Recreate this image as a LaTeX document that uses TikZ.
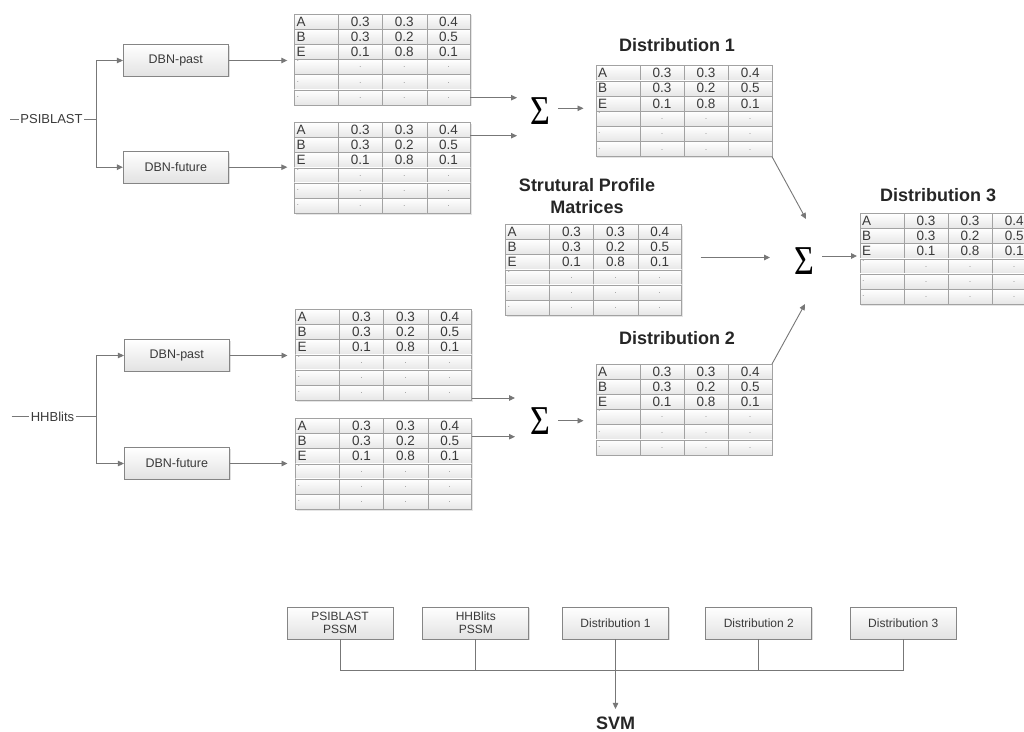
\documentclass[tikz,border=0pt]{standalone}
\usepackage{fontspec}
\setmainfont{Liberation Sans}
\newfontfamily\sigfont{Liberation Serif}
\usetikzlibrary{arrows.meta,shadows}
\definecolor{lineC}{HTML}{777777}
\definecolor{boxC}{HTML}{858585}
\definecolor{boxB}{HTML}{E2E2E2}
\definecolor{gridC}{HTML}{A2A2A2}
\definecolor{cellB}{HTML}{E6E6E6}
\definecolor{txtC}{HTML}{3A3A3A}
\definecolor{dotC}{HTML}{9A9A9A}
\newcommand{\promat}[3]{%
  \node[matframe,anchor=north west] (#1) at (#2,#3) {};
  \begin{scope}[shift={(#2,#3)}]
    \foreach \r in {0,...,5}{
      \foreach \xa/\xb in {0/44,44/88,88/132.5,132.5/176}{
        \path[cell] (\xa,\r*15.17) rectangle (\xb,\r*15.17+15.17);
      }
    }
    \foreach \r/\lab/\va/\vb/\vc in {0/A/0.3/0.3/0.4,1/B/0.3/0.2/0.5,2/E/0.1/0.8/0.1}{
      \node[ctxt,anchor=west] at (1,\r*15.17+7.4) {\lab};
      \node[ctxt] at (66,\r*15.17+7.4) {\va};
      \node[ctxt] at (110,\r*15.17+7.4) {\vb};
      \node[ctxt] at (154.2,\r*15.17+7.4) {\vc};
    }
    \node[dtxt,anchor=west] at (2,3*15.17+2) {.};
    \foreach \r in {4,5}{\node[dtxt,anchor=west] at (2,\r*15.17+7) {.};}
    \foreach \r in {3,4,5}{
      \foreach \cx in {66,110,154.2}{\node[dtxt] at (\cx,\r*15.17+8) {.};}
    }
  \end{scope}
}
\begin{document}
\begin{tikzpicture}[x=1pt,y=-1pt,
  line/.style={draw=lineC,line width=0.9pt},
  arr/.style={line,-{Triangle[length=6pt,width=5.5pt]}},
  box/.style={draw=boxC,line width=0.8pt,top color=white,bottom color=boxB,
    minimum width=105pt,minimum height=31.5pt,inner sep=0pt,text=txtC,
    font=\fontsize{12.5}{14}\selectfont,
    drop shadow={shadow xshift=1.2pt,shadow yshift=-1.2pt,opacity=0.25}},
  bbox/.style={box,minimum width=106pt,minimum height=32pt,align=center,
    font=\fontsize{12}{13}\selectfont},
  cell/.style={draw=gridC,line width=0.6pt,top color=white,bottom color=cellB},
  ctxt/.style={inner sep=1pt,text=txtC,font=\fontsize{13.5}{14}\selectfont},
  dtxt/.style={inner sep=0pt,text=dotC,font=\fontsize{9}{10}\selectfont},
  matframe/.style={draw=gridC,fill=white,line width=0.8pt,minimum width=176pt,minimum height=91pt,inner sep=0pt,outer sep=0pt,
    drop shadow={shadow xshift=1.2pt,shadow yshift=-1.2pt,opacity=0.2}},
  ttl/.style={font=\fontsize{18}{21.7}\selectfont\bfseries,text=black!85,align=center,inner sep=0pt},
  sig/.style={inner sep=0pt,font=\sigfont\fontsize{41}{41}\selectfont},
  lbl/.style={inner sep=1.5pt,text=txtC,font=\fontsize{13}{14}\selectfont}
]
\clip (0,0) rectangle (1024,731);
\fill[white] (0,0) rectangle (1024,731);

% ---- left top
\node[lbl] (psi) at (51.5,119) {PSIBLAST};
\coordinate (p0) at (10,119);
\coordinate (pj) at (96.5,119);
\node[box] (dbp1) at (175.8,60.5) {DBN-past};
\node[box] (dbf1) at (175.8,167.2) {DBN-future};
\draw[line] (p0) -- (psi.west);
\draw[line] (psi.east) -- (pj);
\draw[arr] (pj) |- (dbp1.west);
\draw[arr] (pj) |- (dbf1.west);

% ---- left bottom
\node[lbl] (hhb) at (52.5,416.7) {HHBlits};
\coordinate (h0) at (11.5,416.7);
\coordinate (hj) at (96.5,416.7);
\node[box] (dbp2) at (176.8,355.5) {DBN-past};
\node[box] (dbf2) at (176.8,463.5) {DBN-future};
\draw[line] (h0) -- (hhb.west);
\draw[line] (hhb.east) -- (hj);
\draw[arr] (hj) |- (dbp2.west);
\draw[arr] (hj) |- (dbf2.west);

% ---- matrices
\promat{m1}{294.3}{14}
\promat{m2}{294.3}{122.3}
\promat{m3}{295.5}{309.3}
\promat{m4}{295.5}{418.3}
\promat{d1}{596}{65.7}
\promat{sp}{505.5}{224.3}
\promat{d2}{596}{364}
\promat{d3}{860}{213.3}

\draw[arr,shorten >=7pt] (dbp1.east) -- (dbp1.east -| m1.west);
\draw[arr,shorten >=7pt] (dbf1.east) -- (dbf1.east -| m2.west);
\draw[arr,shorten >=8pt] (dbp2.east) -- (dbp2.east -| m3.west);
\draw[arr,shorten >=8pt] (dbf2.east) -- (dbf2.east -| m4.west);

% ---- titles
\node[ttl] (t1) at (677,45) {Distribution 1};
\node[ttl] (t2) at (677,338) {Distribution 2};
\node[ttl] (t3) at (938,195) {Distribution 3};
\node[ttl] (tsp) at (587,196) {Strutural Profile\\Matrices};

% ---- sigmas
\node[sig] (s1) at (540,111) {\scalebox{0.83}[1]{Σ}};
\node[sig] (s2) at (540,421) {\scalebox{0.83}[1]{Σ}};
\node[sig] (s3) at (804,261) {\scalebox{0.83}[1]{Σ}};

\coordinate (s1a) at (517,97.7);
\coordinate (s1b) at (517,135.7);
\coordinate (d1in) at (583.5,108.3);
\draw[arr] (m1.south east |- s1a) -- (s1a);
\draw[arr] (m2.east |- s1b) -- (s1b);
\draw[arr] ([xshift=8pt]s1.east |- d1in) -- (d1in);

\coordinate (s2a) at (515,398);
\coordinate (s2b) at (515,436.7);
\coordinate (d2in) at (583.5,420.7);
\draw[arr] (m3.east |- s2a) -- (s2a);
\draw[arr] (m4.east |- s2b) -- (s2b);
\draw[arr] ([xshift=8pt]s2.east |- d2in) -- (d2in);

\coordinate (s3a) at (806,219);
\coordinate (s3b) at (770,257.5);
\coordinate (s3c) at (805,304);
\coordinate (d3in) at (857,256);
\draw[arr] (d1.south east) -- (s3a);
\draw[arr] ([xshift=19pt]sp.east |- s3b) -- (s3b);
\draw[arr] (d2.north east) -- (s3c);
\draw[arr] ([xshift=8pt]s3.east |- d3in) -- (d3in);

% ---- bottom
\node[bbox] (b1) at (340,623) {PSIBLAST\\PSSM};
\node[bbox] (b2) at (475.8,623) {HHBlits\\PSSM};
\node[bbox] (b3) at (615.5,623) {Distribution 1};
\node[bbox] (b4) at (758.8,623) {Distribution 2};
\node[bbox] (b5) at (903.2,623) {Distribution 3};
\node[ttl] (svm) at (615.5,723.5) {SVM};
\coordinate (bus) at (615.5,670);
\draw[line] (b1.south) |- (bus) -| (b5.south);
\draw[line] (b2.south) -- (b2.south |- bus);
\draw[line] (b4.south) -- (b4.south |- bus);
\draw[arr,shorten >=8pt] (b3.south) -- (svm.north);
\end{tikzpicture}
\end{document}
